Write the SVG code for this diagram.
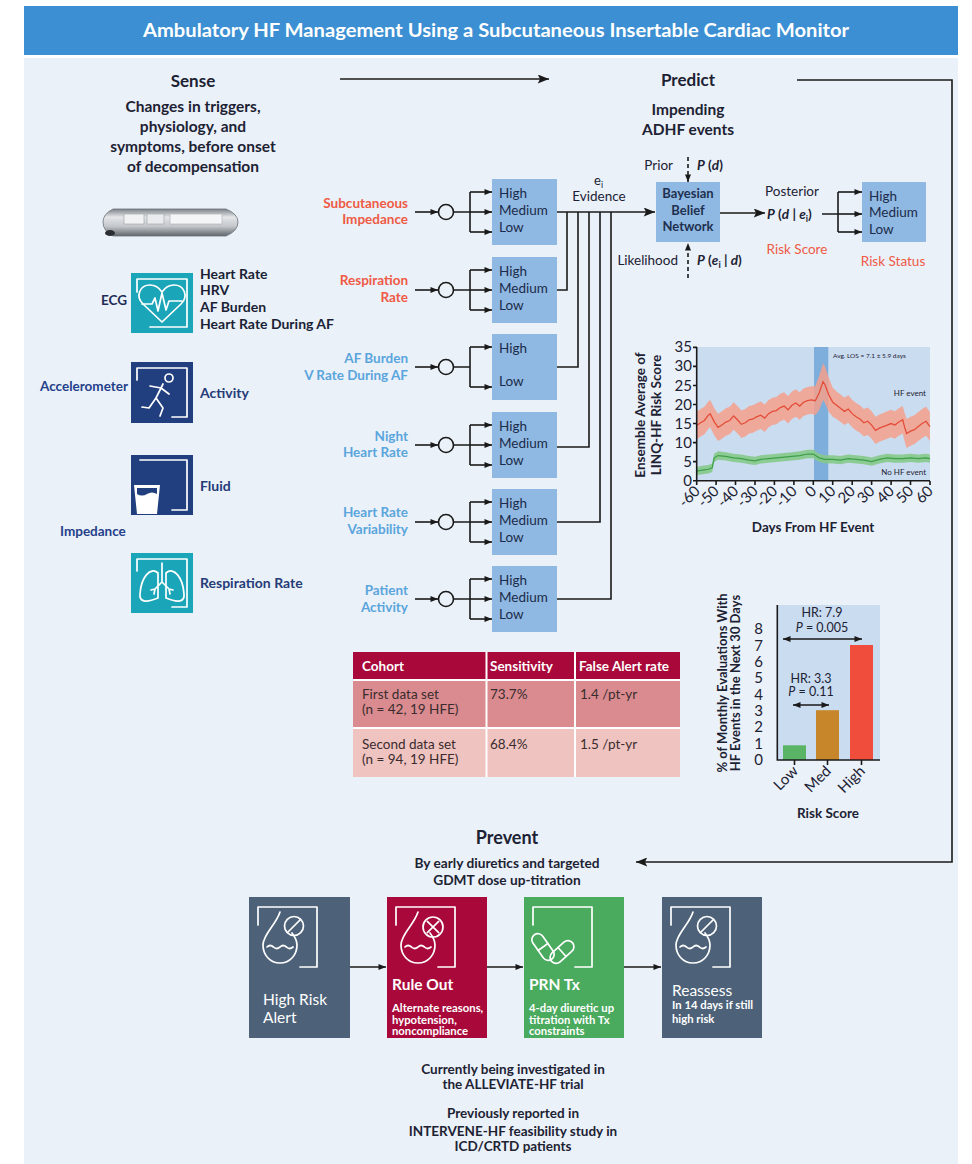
<svg xmlns="http://www.w3.org/2000/svg" width="972" height="1164" viewBox="0 0 972 1164">
<defs>
<style>
text{font-family:Lato,"Liberation Sans",sans-serif}
.b{font-weight:bold}
.it{font-style:italic}
.dk{fill:#1d2233}
.red{fill:#ef5a45}
.lb{fill:#5aa5dc}
.nv{fill:#24408a}
.bx{fill:#8fb9e2}
.bt{fill:#1c2b4a;font-size:13.5px}
.ln{stroke:#1a1a1a;stroke-width:1.6;fill:none}
.wl{stroke:#fff;stroke-width:1.7;fill:none;stroke-linecap:round;stroke-linejoin:round}
.wt{fill:#fff}
.tk{font-size:15px;fill:#1d2233}
.cell{font-size:13.5px;fill:#3a2c2e}
.lab{font-size:13.5px;font-weight:bold}
.sub{font-size:11.3px;font-weight:bold;fill:#fff}
</style>
<marker id="ah" viewBox="0 0 10 8" refX="10" refY="4" markerWidth="9" markerHeight="6" markerUnits="userSpaceOnUse" orient="auto"><path d="M0,0 L10,4 L0,8 z" fill="#1a1a1a"/></marker>
<marker id="big" viewBox="0 0 10 8" refX="10" refY="4" markerWidth="17" markerHeight="9" markerUnits="userSpaceOnUse" orient="auto"><path d="M0,0 L10,4 L0,8 L2,4 z" fill="#1a1a1a"/></marker>
<marker id="dbl" viewBox="0 0 10 8" refX="10" refY="4" markerWidth="8" markerHeight="6" markerUnits="userSpaceOnUse" orient="auto-start-reverse"><path d="M0,0 L10,4 L0,8 z" fill="#1a1a1a"/></marker>
<linearGradient id="metal" x1="0" y1="0" x2="0" y2="1">
<stop offset="0" stop-color="#7d838a"/><stop offset="0.3" stop-color="#e4e6e8"/><stop offset="0.65" stop-color="#c2c6ca"/><stop offset="1" stop-color="#5f656c"/>
</linearGradient>
<g id="dropNo">
<path class="wl" d="M9,28 V10 H68 V70 H51"/>
<path class="wl" d="M31,15 C27,28 14,37 14,48 C14,58 21,66 31,66 C41,66 48,58 48,48 C48,44 46,40 43,36"/>
<path class="wl" d="M18,50 q3,-3 6.5,0 q3,3 6.5,0 q3,-3 6.5,0 q3,3 6.5,0"/>
<circle class="wl" cx="45" cy="29" r="9.5"/>
<path class="wl" d="M51.5,22.5 L38.5,35.5"/>
</g>
</defs>

<!-- page and panel -->
<rect x="0" y="0" width="972" height="1164" fill="#ffffff"/>
<rect x="24" y="58" width="934" height="1106" fill="#eaf1f9"/>
<g id="header">
<rect x="24" y="6" width="934" height="49" fill="#3c8fd2"/>
<text x="496" y="37" text-anchor="middle" font-size="18" class="b wt" textLength="706" lengthAdjust="spacingAndGlyphs">Ambulatory HF Management Using a Subcutaneous Insertable Cardiac Monitor</text>
</g>

<!-- Sense column -->
<g id="sense-title">
<text x="193" y="87" text-anchor="middle" font-size="17" class="b dk">Sense</text>
<text x="193" y="112" text-anchor="middle" font-size="15.5" class="b dk">Changes in triggers,</text>
<text x="193" y="132" text-anchor="middle" font-size="15.5" class="b dk">physiology, and</text>
<text x="193" y="152" text-anchor="middle" font-size="15.5" class="b dk">symptoms, before onset</text>
<text x="193" y="172" text-anchor="middle" font-size="15.5" class="b dk">of decompensation</text>
</g>
<g id="device">
<path d="M113,209 H226 Q238,214 238,222 Q238,231 226,236 H113 Q103,231 103,222 Q103,214 113,209 Z" fill="url(#metal)" stroke="#6d7278" stroke-width="0.8"/>
<rect x="124" y="214" width="20" height="10" fill="#f1f2f3" stroke="#9aa0a6" stroke-width="0.6"/>
<rect x="147" y="214" width="17" height="10" fill="#e9ebed" stroke="#9aa0a6" stroke-width="0.6"/>
<rect x="170" y="214" width="52" height="10" fill="#f4f5f6" stroke="#a8adb2" stroke-width="0.6"/>
<ellipse cx="110" cy="233" rx="5" ry="3" fill="#2b2f34"/>
</g>
<g id="ecg">
<rect x="131" y="273" width="62" height="60" fill="#1ba5b8"/>
<path class="wl" d="M137,292 V279 H187 V327 H150"/>
<path class="wl" d="M162,322 L143,304 C135,296 140,285 150,285 C156,285 160,289 162,292 C164,289 168,285 174,285 C184,285 189,296 181,304 Z"/>
<path class="wl" d="M142,304 H152 L155,298 L158,311 L162,293 L166,310 L169,301 H182"/>
<text x="127" y="305" text-anchor="end" font-size="13.5" class="b" fill="#1d2a55">ECG</text>
<text x="200" y="279" font-size="14" class="b" fill="#1a1f35">Heart Rate</text>
<text x="200" y="295" font-size="14" class="b" fill="#1a1f35">HRV</text>
<text x="200" y="312" font-size="14" class="b" fill="#1a1f35">AF Burden</text>
<text x="200" y="329" font-size="14" class="b" fill="#1a1f35">Heart Rate During AF</text>
</g>
<g id="accelerometer">
<rect x="131" y="362" width="62" height="61" fill="#213f7e"/>
<path class="wl" d="M137,380 V368 H187 V417 H172"/>
<circle class="wl" cx="169" cy="378" r="4"/>
<path class="wl" d="M163,384 L156,398 L163,408 L160,416 M156,398 L149,408 L142,407 M161,388 L150,386 M161,388 L169,394"/>
<text x="128" y="391" text-anchor="end" font-size="13.5" class="b nv">Accelerometer</text>
<text x="200" y="398" font-size="14" class="b" fill="#263b78">Activity</text>
</g>
<g id="fluid">
<rect x="131" y="455" width="62" height="60" fill="#213f7e"/>
<path class="wl" d="M140,460 H187 V510 H172"/>
<path d="M134,485 H160 L157,514 H137 Z" fill="#ffffff"/>
<path d="M137,488 H157 V494 Q152,491 147,494 Q142,497 137,494 Z" fill="#213f7e"/>
<text x="200" y="491" font-size="14" class="b" fill="#263b78">Fluid</text>
<text x="60" y="536" font-size="13.5" class="b nv">Impedance</text>
</g>
<g id="respiration">
<rect x="131" y="553" width="62" height="60" fill="#1ba5b8"/>
<path class="wl" d="M137,571 V559 H187 V607 H172"/>
<path class="wl" d="M158,573 C150,566 141,578 140,594 C139,602 146,603 158,598 Z M166,573 C174,566 183,578 184,594 C185,602 178,603 166,598 Z"/>
<path class="wl" d="M162,563 V582 L155,589 M162,582 L169,589 M151,590 L155,589 L154,594 M173,590 L169,589 L170,594"/>
<text x="200" y="588" font-size="14" class="b" fill="#263b78">Respiration Rate</text>
</g>

<!-- evidence inputs -->
<g id="in-impedance">
<text x="408" y="208" text-anchor="end" class="lab red">Subcutaneous</text>
<text x="408" y="224" text-anchor="end" class="lab red">Impedance</text>
<circle cx="446" cy="212" r="7.5" fill="none" stroke="#1a1a1a" stroke-width="1.6"/>
<rect x="492" y="179" width="65" height="66" class="bx"/>
<text x="499" y="198" class="bt">High</text><text x="499" y="215" class="bt">Medium</text><text x="499" y="232" class="bt">Low</text>
</g>
<g id="in-respiration">
<text x="408" y="285" text-anchor="end" class="lab red">Respiration</text>
<text x="408" y="302" text-anchor="end" class="lab red">Rate</text>
<circle cx="446" cy="290" r="7.5" fill="none" stroke="#1a1a1a" stroke-width="1.6"/>
<rect x="492" y="257" width="65" height="66" class="bx"/>
<text x="499" y="276" class="bt">High</text><text x="499" y="293" class="bt">Medium</text><text x="499" y="310" class="bt">Low</text>
</g>
<g id="in-af">
<text x="408" y="363" text-anchor="end" class="lab lb">AF Burden</text>
<text x="408" y="380" text-anchor="end" class="lab lb">V Rate During AF</text>
<circle cx="446" cy="367" r="7.5" fill="none" stroke="#1a1a1a" stroke-width="1.6"/>
<rect x="492" y="334" width="65" height="66" class="bx"/>
<text x="499" y="353" class="bt">High</text><text x="499" y="386" class="bt">Low</text>
</g>
<g id="in-night-hr">
<text x="408" y="441" text-anchor="end" class="lab lb">Night</text>
<text x="408" y="457" text-anchor="end" class="lab lb">Heart Rate</text>
<circle cx="446" cy="445" r="7.5" fill="none" stroke="#1a1a1a" stroke-width="1.6"/>
<rect x="492" y="412" width="65" height="66" class="bx"/>
<text x="499" y="431" class="bt">High</text><text x="499" y="448" class="bt">Medium</text><text x="499" y="465" class="bt">Low</text>
</g>
<g id="in-hrv">
<text x="408" y="517" text-anchor="end" class="lab lb">Heart Rate</text>
<text x="408" y="534" text-anchor="end" class="lab lb">Variability</text>
<circle cx="446" cy="522" r="7.5" fill="none" stroke="#1a1a1a" stroke-width="1.6"/>
<rect x="492" y="489" width="65" height="66" class="bx"/>
<text x="499" y="508" class="bt">High</text><text x="499" y="525" class="bt">Medium</text><text x="499" y="542" class="bt">Low</text>
</g>
<g id="in-activity">
<text x="408" y="595" text-anchor="end" class="lab lb">Patient</text>
<text x="408" y="612" text-anchor="end" class="lab lb">Activity</text>
<circle cx="446" cy="599" r="7.5" fill="none" stroke="#1a1a1a" stroke-width="1.6"/>
<rect x="492" y="566" width="65" height="66" class="bx"/>
<text x="499" y="585" class="bt">High</text><text x="499" y="602" class="bt">Medium</text><text x="499" y="619" class="bt">Low</text>
</g>

<!-- Predict column -->
<g id="predict-title">
<text x="688" y="86" text-anchor="middle" font-size="17" class="b dk">Predict</text>
<text x="688" y="115" text-anchor="middle" font-size="15.5" class="b dk">Impending</text>
<text x="688" y="135" text-anchor="middle" font-size="15.5" class="b dk">ADHF events</text>
</g>
<g id="evidence-label">
<text x="594" y="185" font-size="13" class="dk">e<tspan font-size="9" dy="3">i</tspan></text>
<text x="599" y="201" text-anchor="middle" font-size="13.5" class="dk">Evidence</text>
</g>
<g id="bbn">
<text x="673" y="170" text-anchor="end" font-size="13.5" class="dk">Prior</text>
<text x="697" y="170" font-size="13.5" class="b dk"><tspan class="it">P</tspan> (<tspan class="it">d</tspan>)</text>
<rect x="656" y="182" width="64" height="60" class="bx"/>
<text x="688" y="198" text-anchor="middle" font-size="13" class="b" fill="#1f3050">Bayesian</text>
<text x="688" y="215" text-anchor="middle" font-size="13" class="b" fill="#1f3050">Belief</text>
<text x="688" y="231" text-anchor="middle" font-size="13" class="b" fill="#1f3050">Network</text>
<text x="678" y="265" text-anchor="end" font-size="13.5" class="dk">Likelihood</text>
<text x="697" y="265" font-size="13.5" class="b dk"><tspan class="it">P</tspan> (<tspan class="it">e</tspan><tspan font-size="9" dy="3">i</tspan><tspan dy="-3"> | </tspan><tspan class="it">d</tspan>)</text>
</g>
<g id="posterior">
<text x="792" y="196" text-anchor="middle" font-size="13.5" class="dk">Posterior</text>
<text x="767" y="219" font-size="13.5" class="b dk"><tspan class="it">P</tspan> (<tspan class="it">d</tspan> | <tspan class="it">e</tspan><tspan font-size="9" dy="3">i</tspan><tspan dy="-3">)</tspan></text>
<text x="797" y="254" text-anchor="middle" font-size="13.5" class="red">Risk Score</text>
</g>
<g id="risk-status">
<rect x="862" y="182" width="64" height="60" class="bx"/>
<text x="869" y="201" class="bt">High</text><text x="869" y="217" class="bt">Medium</text><text x="869" y="234" class="bt">Low</text>
<text x="893" y="266" text-anchor="middle" font-size="13.5" class="red">Risk Status</text>
</g>

<!-- trend chart -->
<g id="chart-trend">
<rect x="697" y="347" width="233" height="134" fill="#cadcf0"/>
<rect x="814" y="347" width="14.3" height="134" fill="#7eaedc"/>
<g transform="translate(813.3 480.7) scale(1.944 -3.81)">
<polygon fill="#f5a08c" fill-opacity="0.85" points="-60,18.1 -58,18.8 -56,19.4 -54,20.8 -53,21.2 -51,19.1 -49,17.6 -47,18.2 -45,19 -43,19.4 -41,20.6 -39,19.6 -37,18.4 -35,18.8 -33,19.6 -31,19.8 -29,20.4 -27,20.8 -25,20 -23,21.2 -21,21.8 -19,22 -17,22.8 -15,23.2 -13,22.2 -11,23.4 -9,24 -7,23.2 -5,24.2 -3,24.6 -1,24.8 1,24.8 3,27.5 5,30.8 6,30 8,27 10,24.4 12,23.4 14,22.6 16,21.8 18,22.4 20,21.2 22,20.4 24,19.8 26,18.8 28,19.2 30,18.2 32,16.8 34,17.4 36,17.8 38,18.2 40,18.6 42,18.2 44,19 46,19.6 47,17.8 48,16.2 50,16.8 52,17.2 54,18 56,18.8 58,19.4 60,18 60,10.4 58,11.8 56,11.2 54,10.4 52,9.6 50,9.2 48,8.6 47,10.2 46,12.4 44,11.8 42,11 40,11.4 38,11 36,10.6 34,10.2 32,9.6 30,11 28,12 26,11.6 24,12.6 22,13.2 20,14 18,15.2 16,14.6 14,15.4 12,16.2 10,16.8 8,18 6,20.4 5,21.2 3,18.5 1,17.2 -1,17.6 -3,17.4 -5,17 -7,16 -9,16.8 -11,16.2 -13,15 -15,16 -17,15.6 -19,14.8 -21,14.6 -23,14 -25,12.8 -27,13.6 -29,13.2 -31,12.6 -33,12.4 -35,11.6 -37,11.2 -39,12.4 -41,13.4 -43,12.2 -45,11.8 -47,11 -49,10.4 -51,11.9 -53,14 -54,13.6 -56,12.2 -58,11.6 -60,10.9"/>
<polyline fill="none" stroke="#e44d38" stroke-width="1.3" vector-effect="non-scaling-stroke" points="-60,14.5 -58,15.2 -56,15.8 -54,17.2 -53,17.6 -51,15.5 -49,14 -47,14.6 -45,15.4 -43,15.8 -41,17 -39,16 -37,14.8 -35,15.2 -33,16 -31,16.2 -29,16.8 -27,17.2 -25,16.4 -23,17.6 -21,18.2 -19,18.4 -17,19.2 -15,19.6 -13,18.6 -11,19.8 -9,20.4 -7,19.6 -5,20.6 -3,21 -1,21.2 1,21 3,23 5,26 6,25.2 8,22.5 10,20.6 12,19.8 14,19 16,18.2 18,18.8 20,17.6 22,16.8 24,16.2 26,15.2 28,15.6 30,14.6 32,13.2 34,13.8 36,14.2 38,14.6 40,15 42,14.6 44,15.4 46,16 47,14 48,12.4 50,13 52,13.4 54,14.2 56,15 58,15.6 60,14.2"/>
<polygon fill="#86c98a" fill-opacity="0.9" points="-60,3.6 -57,3.9 -54,4.1 -52,4.5 -51,7.1 -49,7.7 -45,7.5 -41,7.1 -37,6.9 -33,6.5 -30,6.3 -27,6.7 -23,6.9 -19,7.1 -15,7.3 -11,7.5 -7,7.7 -3,8.1 0,8.1 3,7.1 6,6.7 10,6.7 14,6.5 18,6.9 22,6.7 26,6.5 30,6.1 34,6.7 38,7.1 42,6.9 46,6.9 50,7.1 54,6.9 58,7.1 60,6.9 60,4.7 58,4.9 54,4.7 50,4.9 46,4.7 42,4.7 38,4.9 34,4.5 30,3.9 26,4.3 22,4.5 18,4.7 14,4.3 10,4.5 6,4.5 3,4.9 0,5.9 -3,5.9 -7,5.5 -11,5.3 -15,5.1 -19,4.9 -23,4.7 -27,4.5 -30,4.1 -33,4.3 -37,4.7 -41,4.9 -45,5.3 -49,5.5 -51,4.9 -52,2.3 -54,1.9 -57,1.7 -60,1.4"/>
<polyline fill="none" stroke="#3d9f4a" stroke-width="1.2" vector-effect="non-scaling-stroke" points="-60,2.5 -57,2.8 -54,3 -52,3.4 -51,6 -49,6.6 -45,6.4 -41,6 -37,5.8 -33,5.4 -30,5.2 -27,5.6 -23,5.8 -19,6 -15,6.2 -11,6.4 -7,6.6 -3,7 0,7 3,6 6,5.6 10,5.6 14,5.4 18,5.8 22,5.6 26,5.4 30,5 34,5.6 38,6 42,5.8 46,5.8 50,6 54,5.8 58,6 60,5.8"/>
</g>
<path class="ln" d="M696.7,347 V480.7 H930 M693,480.7 H697 M693,461.6 H697 M693,442.6 H697 M693,423.5 H697 M693,404.5 H697 M693,385.5 H697 M693,366.4 H697 M693,347.4 H697"/>
<path class="ln" d="M696.7,481 v4 M716.1,481 v4 M735.5,481 v4 M755,481 v4 M774.4,481 v4 M793.9,481 v4 M813.3,481 v4 M832.7,481 v4 M852.2,481 v4 M871.6,481 v4 M891.1,481 v4 M910.5,481 v4 M930,481 v4"/>
<g class="tk" text-anchor="end">
<text x="692" y="485.7">0</text><text x="692" y="466.6">5</text><text x="692" y="447.6">10</text><text x="692" y="428.5">15</text><text x="692" y="409.5">20</text><text x="692" y="390.5">25</text><text x="692" y="371.4">30</text><text x="692" y="352.4">35</text>
</g>
<g class="tk" text-anchor="end" font-size="14">
<text x="701" y="492" transform="rotate(-45 701 492)">-60</text>
<text x="720" y="492" transform="rotate(-45 720 492)">-50</text>
<text x="739.5" y="492" transform="rotate(-45 739.5 492)">-40</text>
<text x="759" y="492" transform="rotate(-45 759 492)">-30</text>
<text x="778.4" y="492" transform="rotate(-45 778.4 492)">-20</text>
<text x="797.9" y="492" transform="rotate(-45 797.9 492)">-10</text>
<text x="817.3" y="492" transform="rotate(-45 817.3 492)">0</text>
<text x="836.7" y="492" transform="rotate(-45 836.7 492)">10</text>
<text x="856.2" y="492" transform="rotate(-45 856.2 492)">20</text>
<text x="875.6" y="492" transform="rotate(-45 875.6 492)">30</text>
<text x="895.1" y="492" transform="rotate(-45 895.1 492)">40</text>
<text x="914.5" y="492" transform="rotate(-45 914.5 492)">50</text>
<text x="934" y="492" transform="rotate(-45 934 492)">60</text>
</g>
<text x="833" y="357.5" font-size="6.5" class="dk">Avg. LOS = 7.1 ± 5.9 days</text>
<text x="926" y="396" text-anchor="end" font-size="8" class="dk">HF event</text>
<text x="926" y="475" text-anchor="end" font-size="8" class="dk">No HF event</text>
<text x="813" y="532" text-anchor="middle" font-size="13.5" class="b dk">Days From HF Event</text>
<text x="645" y="415" text-anchor="middle" font-size="13.5" class="b dk" transform="rotate(-90 645 415)">Ensemble Average of</text>
<text x="661" y="415" text-anchor="middle" font-size="13.5" class="b dk" transform="rotate(-90 661 415)">LINQ-HF Risk Score</text>
</g>

<!-- cohort table -->
<g id="table">
<rect x="353" y="652" width="327" height="28" fill="#a8093a"/>
<rect x="353" y="680" width="327" height="48" fill="#d98b8f"/>
<rect x="353" y="728" width="327" height="49" fill="#efc3c0"/>
<path d="M353,680 H680 M353,728 H680 M486.5,652 V777 M575,652 V777" stroke="#ffffff" stroke-width="2" fill="none"/>
<text x="362" y="671" font-size="13.5" class="b wt">Cohort</text>
<text x="490" y="671" font-size="13.5" class="b wt">Sensitivity</text>
<text x="579" y="671" font-size="13.5" class="b wt">False Alert rate</text>
<text x="362" y="699" class="cell">First data set</text>
<text x="362" y="714" class="cell">(n = 42, 19 HFE)</text>
<text x="490" y="699" class="cell">73.7%</text>
<text x="580" y="699" class="cell">1.4 /pt-yr</text>
<text x="362" y="749" class="cell">Second data set</text>
<text x="362" y="764" class="cell">(n = 94, 19 HFE)</text>
<text x="490" y="749" class="cell">68.4%</text>
<text x="580" y="749" class="cell">1.5 /pt-yr</text>
</g>

<!-- risk score bar chart -->
<g id="chart-bars">
<rect x="777" y="605" width="103" height="155" fill="#cadcf0"/>
<rect x="783" y="745.3" width="23" height="14.7" fill="#5ab466"/>
<rect x="816" y="710.2" width="23" height="49.8" fill="#c8862a"/>
<rect x="850" y="645" width="23" height="115" fill="#f04d3c"/>
<path class="ln" d="M777.3,605 V760 H880 M794.5,760 v5 M827.5,760 v5 M861.5,760 v5"/>
<g class="tk" text-anchor="end" font-size="16">
<text x="763" y="765">0</text><text x="763" y="748.7">1</text><text x="763" y="732.3">2</text><text x="763" y="716">3</text><text x="763" y="699.7">4</text><text x="763" y="683.3">5</text><text x="763" y="667">6</text><text x="763" y="650.7">7</text><text x="763" y="634.3">8</text>
</g>
<text x="822" y="617" text-anchor="middle" font-size="12.5" class="dk">HR: 7.9</text>
<text x="822" y="632" text-anchor="middle" font-size="12.5" class="dk"><tspan class="it">P</tspan> = 0.005</text>
<text x="811" y="683" text-anchor="middle" font-size="12.5" class="dk">HR: 3.3</text>
<text x="811" y="696" text-anchor="middle" font-size="12.5" class="dk"><tspan class="it">P</tspan> = 0.11</text>
<g class="tk" text-anchor="end" font-size="13.5">
<text x="799" y="772" transform="rotate(-45 799 772)">Low</text>
<text x="832" y="772" transform="rotate(-45 832 772)">Med</text>
<text x="866" y="772" transform="rotate(-45 866 772)">High</text>
</g>
<text x="828" y="818" text-anchor="middle" font-size="13.5" class="b dk">Risk Score</text>
<text x="727" y="683" text-anchor="middle" font-size="13" class="b dk" transform="rotate(-90 727 683)">% of Monthly Evaluations With</text>
<text x="740" y="683" text-anchor="middle" font-size="13" class="b dk" transform="rotate(-90 740 683)">HF Events in the Next 30 Days</text>
</g>

<!-- Prevent section -->
<g id="prevent-title">
<text x="507" y="844" text-anchor="middle" font-size="18" class="b dk">Prevent</text>
<text x="507" y="868" text-anchor="middle" font-size="13.7" class="b dk">By early diuretics and targeted</text>
<text x="507" y="885" text-anchor="middle" font-size="13.7" class="b dk">GDMT dose up-titration</text>
</g>
<g id="step-alert">
<rect x="249" y="897" width="101" height="141" fill="#4d6279"/>
<use href="#dropNo" transform="translate(249 897)"/>
<text x="263" y="1005" font-size="15.5" class="wt">High Risk</text>
<text x="263" y="1023" font-size="15.5" class="wt">Alert</text>
</g>
<g id="step-ruleout">
<rect x="387" y="897" width="100" height="141" fill="#a8093a"/>
<g transform="translate(387 897)">
<path class="wl" d="M9,28 V10 H68 V70 H51"/>
<path class="wl" d="M31,15 C27,28 14,37 14,48 C14,58 21,66 31,66 C41,66 48,58 48,48 C48,44 46,40 43,36"/>
<path class="wl" d="M18,50 q3,-3 6.5,0 q3,3 6.5,0 q3,-3 6.5,0 q3,3 6.5,0"/>
<circle class="wl" cx="46" cy="30" r="10"/>
<path class="wl" d="M40.3,24.3 L51.7,35.7 M51.7,24.3 L40.3,35.7"/>
</g>
<text x="392" y="990" font-size="15.5" class="b wt">Rule Out</text>
<text x="392" y="1012" class="sub">Alternate reasons,</text>
<text x="392" y="1023.5" class="sub">hypotension,</text>
<text x="392" y="1035" class="sub">noncompliance</text>
</g>
<g id="step-prn">
<rect x="524" y="897" width="100" height="141" fill="#4aaa5e"/>
<g transform="translate(524 897)">
<path class="wl" d="M9,28 V10 H68 V70 H51"/>
<rect class="wl" x="4" y="44" width="30" height="12" rx="6" transform="rotate(55 19 50)"/>
<path class="wl" d="M19,44 V56" transform="rotate(55 19 50)"/>
<rect class="wl" x="24" y="49" width="28" height="12" rx="6" transform="rotate(-42 38 55)"/>
<path class="wl" d="M38,49 V61" transform="rotate(-42 38 55)"/>
</g>
<text x="529" y="990" font-size="15.5" class="b wt">PRN Tx</text>
<text x="529" y="1012" class="sub">4-day diuretic up</text>
<text x="529" y="1023.5" class="sub">titration with Tx</text>
<text x="529" y="1035" class="sub">constraints</text>
</g>
<g id="step-reassess">
<rect x="662" y="897" width="100" height="141" fill="#4d6279"/>
<use href="#dropNo" transform="translate(662 897)"/>
<text x="672" y="996" font-size="15.5" class="wt">Reassess</text>
<text x="672" y="1009" class="sub">In 14 days if still</text>
<text x="672" y="1023" class="sub">high risk</text>
</g>
<g id="notes">
<text x="513" y="1074" text-anchor="middle" font-size="13.5" class="b dk">Currently being investigated in</text>
<text x="513" y="1089" text-anchor="middle" font-size="13.5" class="b dk">the ALLEVIATE-HF trial</text>
<text x="513" y="1118" text-anchor="middle" font-size="13.5" class="b dk">Previously reported in</text>
<text x="513" y="1136" text-anchor="middle" font-size="13.5" class="b dk">INTERVENE-HF feasibility study in</text>
<text x="513" y="1151" text-anchor="middle" font-size="13.5" class="b dk">ICD/CRTD patients</text>
</g>

<!-- connectors -->
<g id="connectors" class="ln">
<path d="M340,79 H549" marker-end="url(#big)"/>
<path d="M797,80 H952 V862 H636" marker-end="url(#big)"/>
<!-- input arrows and fan-outs -->
<path d="M415,212 H438" marker-end="url(#ah)"/><path d="M453.5,212 H470 M470,192 V232"/>
<path d="M470,192 H492" marker-end="url(#ah)"/><path d="M470,212 H492" marker-end="url(#ah)"/><path d="M470,232 H492" marker-end="url(#ah)"/>
<path d="M415,290 H438" marker-end="url(#ah)"/><path d="M453.5,290 H470 M470,270 V310"/>
<path d="M470,270 H492" marker-end="url(#ah)"/><path d="M470,290 H492" marker-end="url(#ah)"/><path d="M470,310 H492" marker-end="url(#ah)"/>
<path d="M415,367 H438" marker-end="url(#ah)"/><path d="M453.5,367 H470 M470,347 V387"/>
<path d="M470,347 H492" marker-end="url(#ah)"/><path d="M470,387 H492" marker-end="url(#ah)"/>
<path d="M415,445 H438" marker-end="url(#ah)"/><path d="M453.5,445 H470 M470,425 V465"/>
<path d="M470,425 H492" marker-end="url(#ah)"/><path d="M470,445 H492" marker-end="url(#ah)"/><path d="M470,465 H492" marker-end="url(#ah)"/>
<path d="M415,522 H438" marker-end="url(#ah)"/><path d="M453.5,522 H470 M470,502 V542"/>
<path d="M470,502 H492" marker-end="url(#ah)"/><path d="M470,522 H492" marker-end="url(#ah)"/><path d="M470,542 H492" marker-end="url(#ah)"/>
<path d="M415,599 H438" marker-end="url(#ah)"/><path d="M453.5,599 H470 M470,579 V619"/>
<path d="M470,579 H492" marker-end="url(#ah)"/><path d="M470,599 H492" marker-end="url(#ah)"/><path d="M470,619 H492" marker-end="url(#ah)"/>
<!-- evidence bus into the belief network -->
<path d="M557,212 H655" marker-end="url(#big)"/>
<path d="M557,290 H567 V212 M557,367 H578 V212 M557,447 H589 V212 M557,522 H600 V212 M557,599 H611 V212"/>
<path d="M688,157 V182" stroke-dasharray="4 3" marker-end="url(#ah)"/>
<path d="M688,278 V243" stroke-dasharray="4 3" marker-end="url(#ah)"/>
<path d="M720,213 H765" marker-end="url(#big)"/>
<path d="M822,214 H838 M838,192 V232"/>
<path d="M838,192 H862" marker-end="url(#ah)"/><path d="M838,214 H862" marker-end="url(#ah)"/><path d="M838,232 H862" marker-end="url(#ah)"/>
<!-- chart comparison arrows -->
<path d="M783,639 H862" stroke-width="1.3" marker-start="url(#dbl)" marker-end="url(#dbl)"/>
<path d="M793,705 H829" stroke-width="1.3" marker-start="url(#dbl)" marker-end="url(#dbl)"/>
<!-- prevention pathway -->
<path d="M350,967 H386" marker-end="url(#ah)"/>
<path d="M487,967 H523" marker-end="url(#ah)"/>
<path d="M624,967 H661" marker-end="url(#ah)"/>
</g>
</svg>
